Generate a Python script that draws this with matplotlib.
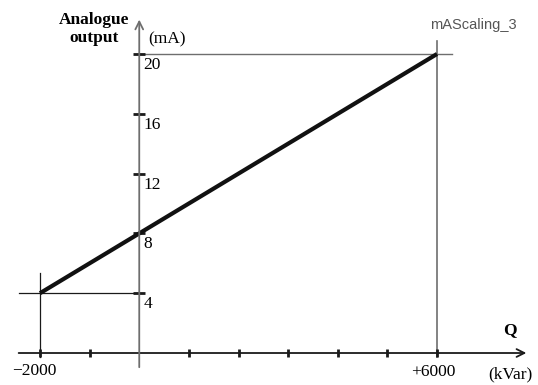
import matplotlib.pyplot as plt
import numpy as np

# scaling line: Q (kVar) -> analogue output (mA)
q_points = [-2000, 6000]
ma_points = [4, 20]
x_ticks = [-2000, -1000, 1000, 2000, 3000, 4000, 5000, 6000]
y_ticks = [4, 8, 12, 16, 20]
y_tick_labels = ["4", "8", "12", "16", "20"]


def main():
    plt.rcParams['font.family'] = ['Liberation Serif', 'DejaVu Serif']
    fig = plt.figure(figsize=(5.38, 3.85), dpi=100)
    ax = fig.add_axes([0, 0, 1, 1])
    ax.set_xlim(-2806, 8035)
    ax.set_ylim(-2.14, 23.61)
    ax.axis('off')

    dark = '#1a1a1a'
    grey = '#6e6e6e'

    # x axis with arrow
    ax.annotate('', xy=(7800, 0), xytext=(-2430, 0),
                arrowprops=dict(arrowstyle='->', color=dark, lw=1.3,
                                mutation_scale=14, shrinkA=0, shrinkB=0))
    # y axis with arrow
    ax.annotate('', xy=(0, 22.3), xytext=(0, -0.95),
                arrowprops=dict(arrowstyle='->', color=grey, lw=1.3,
                                mutation_scale=14, shrinkA=0, shrinkB=0))

    # guide lines
    ax.plot([0, 6300], [20, 20], color=grey, lw=1.0)
    ax.plot([6000, 6000], [-0.25, 20.9], color=grey, lw=1.2)
    ax.plot([-2430, 0], [4, 4], color=dark, lw=0.9)
    ax.plot([-2000, -2000], [-0.25, 5.35], color=dark, lw=0.9)

    # ticks
    ax.plot(x_ticks, np.zeros(len(x_ticks)), linestyle='none', marker='|',
            markersize=6, mew=2, color=dark)
    ax.plot(np.zeros(len(y_ticks)), y_ticks, linestyle='none', marker='_',
            markersize=8, mew=2, color=dark)

    # scaling line
    ax.plot(q_points, ma_points, color='#111111', lw=3.0, solid_capstyle='butt')

    # labels
    for v, lab in zip(y_ticks, y_tick_labels):
        ax.text(90, v - 0.2, lab, ha='left', va='top', fontsize=12.5)
    ax.text(-2110, -1.2, "\u22122000", ha='center', va='center', fontsize=12.5)
    ax.text(5917, -1.3, "+6000", ha='center', va='center', fontsize=12.5)

    ax.text(-912, 21.67, "Analogue\noutput", ha='center', va='center',
            fontsize=12.5, fontweight='bold', linespacing=1.15)
    ax.text(176, 21.0, "(mA)", ha='left', va='center', fontsize=12.5)
    ax.text(7471, 1.55, "Q", ha='center', va='center', fontsize=12.5,
            fontweight='bold')
    ax.text(7040, -1.45, "(kVar)", ha='left', va='center', fontsize=12.5)
    ax.text(6726, 21.94, "mAScaling_3", ha='center', va='center',
            fontsize=10.5, color='#555555',
            family=['Liberation Sans', 'DejaVu Sans'])

    fig.savefig('out.png', dpi=100)


if __name__ == "__main__":
    main()
